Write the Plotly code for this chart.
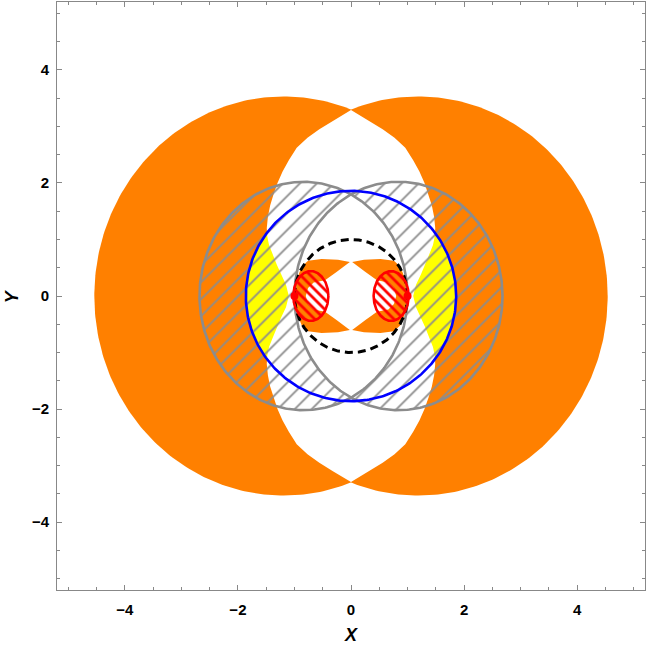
import numpy as np
import plotly.graph_objects as go

# ---------------- data ----------------
x_range = [-5.2, 5.2]
y_range = [-5.2, 5.2]
major_ticks = [-4, -2, 0, 2, 4]
tick_labels = ["\u22124", "\u22122", "0", "2", "4"]

# big orange regions: two ovals centred at +/- orange_cx
orange_cx = 1.19
orange_a = 3.35
orange_b = 3.53

# white lens between the orange ovals (right half, upper quadrant; mirrored)
lens_y = [3.29, 3.10, 2.95, 2.80, 2.62, 2.40, 2.20, 2.00, 1.80, 1.60, 1.40, 1.20,
          1.05, 0.90, 0.75, 0.55, 0.39, 0.20, 0.0]
lens_x = [0.00, 0.32, 0.56, 0.77, 0.96, 1.10, 1.21, 1.30, 1.37, 1.43, 1.47, 1.49,
          1.48, 1.45, 1.39, 1.31, 1.24, 1.15, 1.10]

# blue circle (yellow = orange part inside it)
blue_r = 1.86

# gray ovals (hatched where they do not overlap)
gray_cx = 0.84
gray_a = 1.84
gray_b = 2.02

# black dashed circle
dash_r = 1.0

# small orange lobes (right lobe, upper half; mirrored)
lobe_outer_x = [0.02, 0.23, 0.52, 0.76, 0.87, 0.94, 0.98, 0.99]
lobe_outer_y = [0.60, 0.64, 0.655, 0.625, 0.52, 0.35, 0.15, 0.0]
lobe_inner_x = [0.80, 0.76, 0.66, 0.46, 0.25, 0.05]
lobe_inner_y = [0.00, 0.14, 0.24, 0.28, 0.43, 0.58]

# red hatched ellipses and red points
red_cx = 0.71
red_a = 0.31
red_b = 0.44
red_pts_x = [-1.0, 1.0]
red_pts_y = [0.0, 0.0]

ORANGE = "#FF8000"
YELLOW = "#FFFF00"
GRAY = "#8C8C8C"

# ---------------- helpers ----------------
def ellipse(cx, cy, a, b, t0=0.0, t1=2 * np.pi, n=361):
    t = np.linspace(t0, t1, n)
    return cx + a * np.cos(t), cy + b * np.sin(t)


def filled(x, y, color, name):
    return go.Scatter(x=list(x), y=list(y), mode="lines", fill="toself",
                      fillcolor=color, line=dict(width=0), hoverinfo="skip",
                      showlegend=False, name=name)


fig = go.Figure()

# orange ovals
for s in (-1, 1):
    ex, ey = ellipse(s * orange_cx, 0, orange_a, orange_b)
    fig.add_trace(filled(ex, ey, ORANGE, "orange"))

# yellow disk (becomes visible only outside the white lens)
bx, by = ellipse(0, 0, blue_r, blue_r)
fig.add_trace(filled(bx, by, YELLOW, "yellow"))

# white lens
lx = np.array(lens_x)
ly = np.array(lens_y)
right_x = np.concatenate([lx, lx[::-1][1:]])
right_y = np.concatenate([ly, -ly[::-1][1:]])
poly_x = np.concatenate([right_x, -right_x[::-1]])
poly_y = np.concatenate([right_y, right_y[::-1]])
fig.add_trace(filled(poly_x, poly_y, "white", "lens"))

# small orange lobes
ox = np.array(lobe_outer_x); oy = np.array(lobe_outer_y)
ix = np.array(lobe_inner_x); iy = np.array(lobe_inner_y)
lobe_x = np.concatenate([ox, ox[::-1][1:], ix[::-1], ix[1:]])
lobe_y = np.concatenate([oy, -oy[::-1][1:], -iy[::-1], iy[1:]])
for s in (-1, 1):
    fig.add_trace(filled(s * lobe_x, lobe_y, ORANGE, "lobe"))

# gray hatched crescents (symmetric difference of the two gray ovals)
th1 = np.arccos(gray_cx / gray_a)
for s in (-1, 1):
    t_out = np.linspace(th1, 2 * np.pi - th1, 200)
    xo = -gray_cx + gray_a * np.cos(t_out)
    yo = gray_b * np.sin(t_out)
    t_in = np.linspace(np.pi + th1, np.pi - th1, 200)
    xi = gray_cx + gray_a * np.cos(t_in)
    yi = gray_b * np.sin(t_in)
    cx_ = np.concatenate([xo, xi]) * (-s)
    cy_ = np.concatenate([yo, yi])
    fig.add_trace(go.Scatter(x=cx_, y=cy_, mode="lines", fill="toself",
                             fillcolor="rgba(0,0,0,0)", line=dict(width=0),
                             fillpattern=dict(shape="/", fgcolor=GRAY, size=12,
                                              solidity=0.15, fillmode="replace"),
                             hoverinfo="skip", showlegend=False))

# gray oval outlines
for s in (-1, 1):
    gx, gy = ellipse(s * gray_cx, 0, gray_a, gray_b)
    fig.add_trace(go.Scatter(x=gx, y=gy, mode="lines", line=dict(color=GRAY, width=2.6),
                             hoverinfo="skip", showlegend=False))

# blue circle
fig.add_trace(go.Scatter(x=bx, y=by, mode="lines", line=dict(color="#0000FF", width=2.6),
                         hoverinfo="skip", showlegend=False))

# black dashed circle
dx, dy = ellipse(0, 0, dash_r, dash_r)
fig.add_trace(go.Scatter(x=dx, y=dy, mode="lines",
                         line=dict(color="black", width=3, dash="8px,5px"),
                         hoverinfo="skip", showlegend=False))

# red hatched ellipses
for s in (-1, 1):
    rx, ry = ellipse(s * red_cx, 0, red_a, red_b)
    fig.add_trace(go.Scatter(x=rx, y=ry, mode="lines", fill="toself",
                             fillcolor="rgba(0,0,0,0)",
                             fillpattern=dict(shape="\\", fgcolor="#FF0000", size=7,
                                              solidity=0.4, fillmode="replace"),
                             line=dict(color="#FF0000", width=2.6),
                             hoverinfo="skip", showlegend=False))

# red points
fig.add_trace(go.Scatter(x=red_pts_x, y=red_pts_y, mode="markers",
                         marker=dict(color="#FF0000", size=8),
                         hoverinfo="skip", showlegend=False))

axis_common = dict(
    showgrid=False, zeroline=False, showline=True, linecolor="#888888", linewidth=1,
    mirror="allticks", ticks="inside", ticklen=5, tickcolor="#888888", tickwidth=1,
    tickvals=major_ticks, ticktext=tick_labels, automargin=False,
    tickfont=dict(family="Liberation Sans", size=15, color="black", weight="bold"),
    minor=dict(ticks="inside", ticklen=3, dtick=0.5, tick0=0, tickcolor="#888888",
               showgrid=False),
)

title_font = dict(family="Liberation Sans", size=18, color="black",
                  weight="bold", style="italic")

fig.update_layout(
    width=648, height=647,
    margin=dict(l=57, r=3, t=2, b=57, autoexpand=False),
    paper_bgcolor="white", plot_bgcolor="white",
    xaxis=dict(range=x_range, ticklabelstandoff=6, **axis_common),
    yaxis=dict(range=y_range, ticklabelstandoff=4, **axis_common),
    annotations=[
        dict(text="X", x=0.5, y=-0.077, xref="paper", yref="paper", showarrow=False,
             font=title_font, xanchor="center", yanchor="middle"),
        dict(text="Y", x=-0.076, y=0.5, xref="paper", yref="paper", showarrow=False,
             font=title_font, textangle=-90, xanchor="center", yanchor="middle"),
    ],
)

fig.write_html("out.html", config={"displayModeBar": False},
               post_script="document.body.style.margin='0px';"
                           "document.body.style.overflow='hidden';")
